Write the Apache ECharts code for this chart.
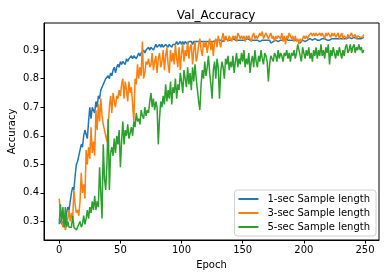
<!DOCTYPE html>
<html><head><meta charset="utf-8">
<script src="https://cdn.jsdelivr.net/npm/echarts@6/dist/echarts.min.js"></script>
<style>html,body{margin:0;padding:0;background:#fff}#c{width:386px;height:278px}</style>
</head><body><div id="c"></div>
<script>
const seriesNames = ['1-sec Sample length', '3-sec Sample length', '5-sec Sample length'];
const xTicks = [0, 50, 100, 150, 200, 250];
const yTicks = [0.3, 0.4, 0.5, 0.6, 0.7, 0.8, 0.9];

const acc1 = [
0.31,0.30,0.29,0.30,0.28,0.29,0.33,0.35,0.34,0.37,
0.40,0.42,0.41,0.46,0.50,0.51,0.51,0.55,0.57,0.56,
0.60,0.62,0.62,0.59,0.65,0.70,0.66,0.70,0.70,0.68,
0.72,0.70,0.74,0.73,0.76,0.77,0.78,0.79,0.80,0.80,
0.81,0.80,0.82,0.81,0.83,0.84,0.82,0.84,0.85,0.84,
0.86,0.85,0.86,0.86,0.85,0.87,0.86,0.87,0.87,0.88,
0.87,0.88,0.88,0.87,0.88,0.89,0.88,0.89,0.89,0.90,
0.89,0.90,0.90,0.91,0.90,0.91,0.91,0.90,0.91,0.92,
0.91,0.91,0.92,0.91,0.92,0.91,0.91,0.92,0.92,0.91,
0.92,0.92,0.91,0.92,0.92,0.92,0.93,0.92,0.92,0.93,
0.92,0.93,0.92,0.93,0.93,0.92,0.93,0.93,0.93,0.92,
0.93,0.93,0.93,0.925,0.93,0.93,0.93,0.935,0.93,0.93,
0.93,0.935,0.93,0.935,0.93,0.935,0.93,0.935,0.935,0.93,
0.935,0.93,0.935,0.935,0.93,0.935,0.94,0.935,0.935,0.93,
0.935,0.935,0.94,0.935,0.935,0.93,0.935,0.94,0.935,0.935,
0.935,0.93,0.935,0.935,0.94,0.935,0.935,0.93,0.935,0.935,
0.935,0.94,0.935,0.935,0.93,0.935,0.935,0.94,0.935,0.935,
0.935,0.93,0.935,0.925,0.925,0.93,0.93,0.935,0.935,0.93,
0.935,0.935,0.93,0.935,0.935,0.94,0.935,0.935,0.93,0.935,
0.935,0.935,0.93,0.935,0.93,0.935,0.93,0.925,0.93,0.935,
0.935,0.93,0.935,0.935,0.935,0.94,0.935,0.935,0.935,0.94,
0.935,0.935,0.94,0.935,0.935,0.94,0.935,0.94,0.94,0.935,
0.94,0.935,0.94,0.94,0.935,0.94,0.94,0.94,0.935,0.94,
0.94,0.94,0.935,0.94,0.94,0.94,0.94,0.945,0.94,0.94,
0.94,0.945,0.94,0.94,0.945,0.94,0.945,0.94,0.945,0.945
];
const acc3 = [
0.38,0.33,0.30,0.28,0.30,0.27,0.29,0.31,0.34,0.30,
0.33,0.31,0.41,0.36,0.33,0.34,0.32,0.37,0.47,0.40,
0.43,0.38,0.55,0.50,0.56,0.52,0.63,0.54,0.58,0.53,
0.69,0.62,0.71,0.65,0.73,0.67,0.64,0.62,0.60,0.58,
0.63,0.70,0.74,0.68,0.75,0.72,0.70,0.74,0.73,0.76,
0.74,0.78,0.80,0.73,0.79,0.76,0.72,0.79,0.75,0.77,
0.71,0.65,0.80,0.78,0.85,0.80,0.84,0.81,0.93,0.80,
0.82,0.86,0.85,0.87,0.84,0.85,0.89,0.83,0.86,0.88,
0.82,0.87,0.89,0.84,0.86,0.90,0.83,0.88,0.91,0.85,
0.82,0.90,0.86,0.89,0.85,0.92,0.87,0.84,0.91,0.83,
0.89,0.92,0.86,0.90,0.88,0.93,0.87,0.91,0.92,0.85,
0.90,0.93,0.86,0.88,0.92,0.94,0.90,0.88,0.93,0.91,
0.93,0.89,0.92,0.94,0.90,0.93,0.88,0.93,0.94,0.91,
0.95,0.93,0.91,0.94,0.96,0.93,0.95,0.94,0.93,0.95,
0.94,0.93,0.95,0.94,0.95,0.93,0.96,0.95,0.94,0.95,
0.94,0.95,0.93,0.95,0.94,0.95,0.94,0.93,0.95,0.96,
0.94,0.95,0.94,0.95,0.96,0.95,0.965,0.94,0.95,0.96,
0.95,0.94,0.95,0.96,0.94,0.95,0.93,0.95,0.94,0.95,
0.95,0.94,0.96,0.93,0.95,0.92,0.95,0.94,0.96,0.95,
0.94,0.95,0.93,0.95,0.93,0.94,0.92,0.94,0.93,0.94,
0.95,0.94,0.95,0.94,0.95,0.95,0.96,0.95,0.96,0.95,
0.96,0.95,0.955,0.96,0.95,0.96,0.95,0.94,0.96,0.95,
0.96,0.955,0.945,0.96,0.95,0.96,0.945,0.95,0.96,0.94,
0.95,0.96,0.94,0.95,0.95,0.94,0.955,0.945,0.95,0.96,
0.945,0.95,0.955,0.94,0.95,0.955,0.945,0.95,0.945,0.955
];
const acc5 = [
0.29,0.36,0.30,0.35,0.28,0.35,0.28,0.30,0.28,0.28,
0.28,0.32,0.28,0.28,0.27,0.28,0.28,0.30,0.28,0.29,
0.32,0.29,0.31,0.34,0.31,0.35,0.33,0.37,0.34,0.39,
0.34,0.37,0.35,0.49,0.40,0.31,0.57,0.45,0.41,0.50,
0.66,0.41,0.54,0.56,0.53,0.59,0.54,0.60,0.57,0.62,
0.49,0.58,0.65,0.57,0.62,0.60,0.64,0.59,0.61,0.63,
0.60,0.65,0.63,0.68,0.65,0.66,0.64,0.69,0.67,0.66,
0.70,0.67,0.69,0.68,0.72,0.75,0.70,0.73,0.69,0.72,
0.70,0.57,0.66,0.72,0.70,0.74,0.71,0.78,0.72,0.76,
0.73,0.79,0.71,0.77,0.75,0.80,0.73,0.78,0.76,0.82,
0.79,0.75,0.83,0.80,0.77,0.84,0.78,0.82,0.76,0.84,
0.79,0.85,0.80,0.76,0.72,0.69,0.78,0.83,0.80,0.86,
0.81,0.84,0.88,0.82,0.78,0.73,0.83,0.86,0.80,0.87,
0.84,0.73,0.82,0.86,0.84,0.80,0.87,0.85,0.88,0.83,
0.86,0.84,0.88,0.82,0.86,0.89,0.84,0.87,0.85,0.89,
0.86,0.90,0.84,0.87,0.85,0.89,0.82,0.86,0.88,0.84,
0.90,0.86,0.84,0.88,0.86,0.90,0.87,0.85,0.89,0.88,
0.86,0.79,0.85,0.88,0.87,0.86,0.89,0.88,0.86,0.90,
0.87,0.89,0.88,0.86,0.89,0.88,0.90,0.87,0.89,0.86,
0.89,0.88,0.90,0.87,0.89,0.92,0.90,0.88,0.86,0.91,
0.89,0.87,0.90,0.88,0.91,0.87,0.89,0.86,0.90,0.88,
0.91,0.87,0.90,0.88,0.92,0.88,0.90,0.87,0.91,0.89,
0.92,0.85,0.90,0.88,0.91,0.89,0.87,0.90,0.88,0.91,
0.89,0.87,0.90,0.88,0.91,0.92,0.89,0.90,0.92,0.89,
0.91,0.92,0.89,0.91,0.90,0.92,0.90,0.91,0.89,0.90
];
const colors = ['#1f77b4', '#ff7f0e', '#2ca02c'];
const allData = [acc1, acc3, acc5];

const font = 'DejaVu Sans';
const chart = echarts.init(document.getElementById('c'), null, {renderer: 'canvas'});
chart.setOption({
  animation: false,
  backgroundColor: '#fff',
  title: {
    text: 'Val_Accuracy', left: 211, top: 5, textAlign: 'center',
    textStyle: {fontFamily: font, fontSize: 12, fontWeight: 'normal', color: '#000'}
  },
  grid: {left: 44, right: 7, top: 23, bottom: 38, show: true, borderColor: '#000', borderWidth: 1,
    backgroundColor: 'transparent', containLabel: false, outerBoundsMode: 'none'},
  legend: {
    data: seriesNames, right: 10, bottom: 42, orient: 'vertical',
    backgroundColor: '#fff', borderColor: '#d0d0d0', borderWidth: 1, borderRadius: 3,
    padding: [4, 6, 4, 4], itemGap: 4, itemWidth: 20, itemHeight: 10,
    icon: 'path://M0,4 L20,4 L20,6 L0,6 Z',
    textStyle: {fontFamily: font, fontSize: 10, color: '#000', padding: [0, 0, 0, 4]}
  },
  xAxis: {
    type: 'value', min: -12.45, max: 261.45,
    name: 'Epoch', nameLocation: 'middle', nameGap: 20, nameMoveOverlap: false,
    nameTextStyle: {fontFamily: font, fontSize: 10, color: '#000'},
    axisLine: {show: true, onZero: false, lineStyle: {color: '#000', width: 1}},
    axisTick: {show: true, length: 3.5, lineStyle: {color: '#000'}, customValues: xTicks},
    axisLabel: {fontFamily: font, fontSize: 10, color: '#000', margin: 5, customValues: xTicks},
    splitLine: {show: false}
  },
  yAxis: {
    type: 'value', min: 0.235, max: 0.995,
    name: 'Accuracy', nameLocation: 'middle', nameGap: 27, nameMoveOverlap: false,
    nameTextStyle: {fontFamily: font, fontSize: 10, color: '#000'},
    axisLine: {show: true, onZero: false, lineStyle: {color: '#000', width: 1}},
    axisTick: {show: true, length: 3.5, lineStyle: {color: '#000'}, customValues: yTicks},
    axisLabel: {fontFamily: font, fontSize: 10, color: '#000', margin: 5, customValues: yTicks,
      formatter: v => v.toFixed(1)},
    splitLine: {show: false}
  },
  series: allData.map((d, i) => ({
    name: seriesNames[i], type: 'line', showSymbol: false, symbol: 'none',
    data: d.map((v, k) => [k, v]),
    lineStyle: {color: colors[i], width: 1.5}, itemStyle: {color: colors[i]},
    z: 2 + i
  }))
});
</script></body></html>
